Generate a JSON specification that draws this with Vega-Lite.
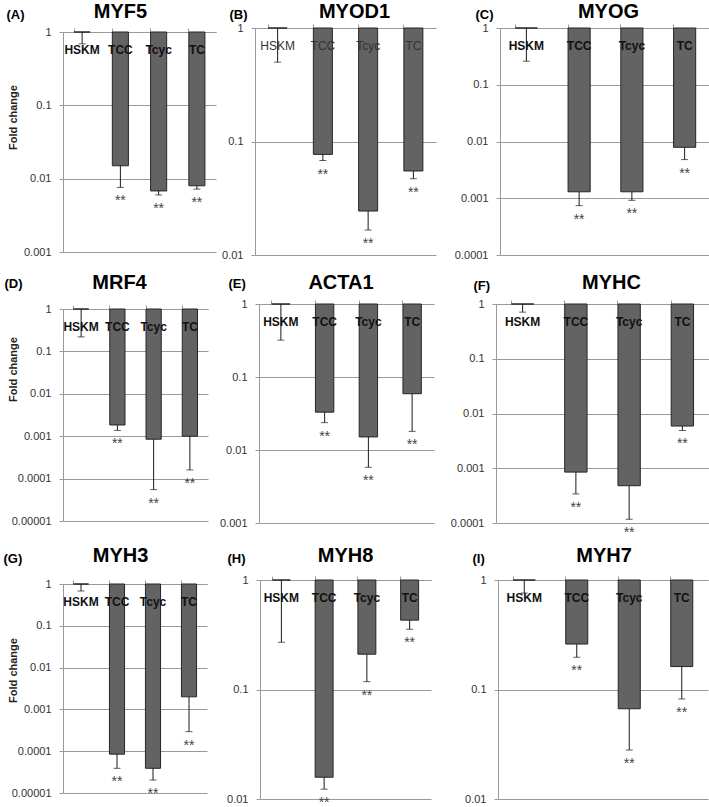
{
"$schema":"https://vega.github.io/schema/vega-lite/v6.json",
"padding":{"left":3,"top":1,"right":0,"bottom":0},
"config":{"view":{"stroke":null},"font":"Liberation Sans","axis":{"labelFont":"Liberation Sans","titleFont":"Liberation Sans"},"text":{"font":"Liberation Sans"}},
"vconcat":[
{"vconcat":[
{"hconcat":[
{"width":153,"height":224,
"data":{"values":[{"cat":"HSKM","val":1,"low":0.69,"sig":""},{"cat":"TCC","val":0.015,"low":0.0076,"sig":"**"},{"cat":"Tcyc","val":0.0068,"low":0.006,"sig":"**"},{"cat":"TC","val":0.008,"low":0.0072,"sig":"**"}]},
"layer":[
{"mark":{"type":"bar","fill":"#636363","stroke":"#262626","strokeWidth":1},"encoding":{"x":{"field":"cat","type":"nominal","sort":["HSKM","TCC","Tcyc","TC"],"scale":{"paddingInner":0.58,"paddingOuter":0.29},"axis":{"orient":"top","offset":-4,"labels":false,"domain":true,"domainColor":"#9a9a9a","ticks":true,"tickColor":"#9a9a9a","tickSize":4,"bandPosition":0,"grid":false,"title":"MYF5","titleFontSize":20,"titleFontWeight":"bold","titleColor":"#000","titleAlign":"center","titleBaseline":"alphabetic","titleAngle":0,"titleX":57,"titleY":-15}},"y":{"field":"val","type":"quantitative","scale":{"type":"log","domain":[0.001,1],"range":[224,4]},"axis":{"values":[1,0.1,0.01,0.001],"format":".5~f","grid":true,"gridColor":"#9a9a9a","domainColor":"#9a9a9a","tickColor":"#9a9a9a","tickSize":4,"labelFontSize":11,"labelColor":"#333","labelPadding":8,"minExtent":40,"title":"Fold change","titleFontSize":11,"titleFontWeight":"bold","titleColor":"#222","titleAngle":-90,"titleAlign":"center","titleBaseline":"middle","titleX":-50,"titleY":89}},"y2":{"datum":1}}},
{"mark":{"type":"rule","color":"#1a1a1a","strokeWidth":1},"encoding":{"x":{"field":"cat","type":"nominal","sort":["HSKM","TCC","Tcyc","TC"],"axis":null},"y":{"field":"val","type":"quantitative"},"y2":{"field":"low"}}},
{"mark":{"type":"tick","color":"#1a1a1a","thickness":1,"size":7},"encoding":{"x":{"field":"cat","type":"nominal","sort":["HSKM","TCC","Tcyc","TC"],"axis":null},"y":{"field":"low","type":"quantitative"}}},
{"mark":{"type":"text","fontSize":14,"dy":18,"baseline":"alphabetic","color":"#444"},"encoding":{"x":{"field":"cat","type":"nominal","sort":["HSKM","TCC","Tcyc","TC"],"axis":null},"y":{"field":"low","type":"quantitative"},"text":{"field":"sig"}}},
{"mark":{"type":"text","fontSize":12,"fontWeight":"bold","dy":17.5,"baseline":"middle","color":"#111"},"encoding":{"x":{"field":"cat","type":"nominal","sort":["HSKM","TCC","Tcyc","TC"],"axis":{"orient":"bottom","labels":false,"ticks":false,"domain":false,"grid":false,"title":"(A)","titleFontSize":13,"titleFontWeight":"bold","titleColor":"#000","titleAlign":"left","titleBaseline":"middle","titleAngle":0,"titleX":-57,"titleY":-238}},"y":{"datum":1},"text":{"field":"cat"}}}
],
"resolve":{"axis":{"x":"independent"}}},
{"width":181,"height":227,
"data":{"values":[{"cat":"HSKM","val":1,"low":0.5,"sig":""},{"cat":"TCC","val":0.077,"low":0.068,"sig":"**"},{"cat":"Tcyc","val":0.0244,"low":0.0166,"sig":"**"},{"cat":"TC","val":0.055,"low":0.047,"sig":"**"}]},
"layer":[
{"mark":{"type":"bar","fill":"#636363","stroke":"#262626","strokeWidth":1},"encoding":{"x":{"field":"cat","type":"nominal","sort":["HSKM","TCC","Tcyc","TC"],"scale":{"paddingInner":0.58,"paddingOuter":0.29},"axis":{"orient":"top","labels":false,"domain":true,"domainColor":"#9a9a9a","ticks":true,"tickColor":"#9a9a9a","tickSize":4,"bandPosition":0,"grid":false,"title":"MYOD1","titleFontSize":20,"titleFontWeight":"bold","titleColor":"#000","titleAlign":"center","titleBaseline":"alphabetic","titleAngle":0,"titleX":99,"titleY":-11}},"y":{"field":"val","type":"quantitative","scale":{"type":"log","domain":[0.01,1]},"axis":{"values":[1,0.1,0.01],"format":".5~f","grid":true,"gridColor":"#9a9a9a","domainColor":"#9a9a9a","tickColor":"#9a9a9a","tickSize":4,"labelFontSize":11,"labelColor":"#333","labelPadding":8,"minExtent":39,"title":null}},"y2":{"datum":1}}},
{"mark":{"type":"rule","color":"#1a1a1a","strokeWidth":1},"encoding":{"x":{"field":"cat","type":"nominal","sort":["HSKM","TCC","Tcyc","TC"],"axis":null},"y":{"field":"val","type":"quantitative"},"y2":{"field":"low"}}},
{"mark":{"type":"tick","color":"#1a1a1a","thickness":1,"size":7},"encoding":{"x":{"field":"cat","type":"nominal","sort":["HSKM","TCC","Tcyc","TC"],"axis":null},"y":{"field":"low","type":"quantitative"}}},
{"mark":{"type":"text","fontSize":14,"dy":18,"baseline":"alphabetic","color":"#444"},"encoding":{"x":{"field":"cat","type":"nominal","sort":["HSKM","TCC","Tcyc","TC"],"axis":null},"y":{"field":"low","type":"quantitative"},"text":{"field":"sig"}}},
{"mark":{"type":"text","fontSize":12,"fontWeight":"normal","dy":17.5,"baseline":"middle","color":"#333"},"encoding":{"x":{"field":"cat","type":"nominal","sort":["HSKM","TCC","Tcyc","TC"],"axis":{"orient":"bottom","labels":false,"ticks":false,"domain":false,"grid":false,"title":"(B)","titleFontSize":13,"titleFontWeight":"bold","titleColor":"#000","titleAlign":"left","titleBaseline":"middle","titleAngle":0,"titleX":-26,"titleY":-241}},"y":{"datum":1},"text":{"field":"cat"}}}
],
"resolve":{"axis":{"x":"independent"}}},
{"width":211,"height":227,
"data":{"values":[{"cat":"HSKM","val":1,"low":0.26,"sig":""},{"cat":"TCC","val":0.0013,"low":0.00074,"sig":"**"},{"cat":"Tcyc","val":0.0013,"low":0.00092,"sig":"**"},{"cat":"TC","val":0.0079,"low":0.0048,"sig":"**"}]},
"layer":[
{"mark":{"type":"bar","fill":"#636363","stroke":"#262626","strokeWidth":1},"encoding":{"x":{"field":"cat","type":"nominal","sort":["HSKM","TCC","Tcyc","TC"],"scale":{"paddingInner":0.58,"paddingOuter":0.29},"axis":{"orient":"top","labels":false,"domain":true,"domainColor":"#9a9a9a","ticks":true,"tickColor":"#9a9a9a","tickSize":4,"bandPosition":0,"grid":false,"title":"MYOG","titleFontSize":20,"titleFontWeight":"bold","titleColor":"#000","titleAlign":"center","titleBaseline":"alphabetic","titleAngle":0,"titleX":108,"titleY":-11}},"y":{"field":"val","type":"quantitative","scale":{"type":"log","domain":[0.0001,1]},"axis":{"values":[1,0.1,0.01,0.001,0.0001],"format":".5~f","grid":true,"gridColor":"#9a9a9a","domainColor":"#9a9a9a","tickColor":"#9a9a9a","tickSize":4,"labelFontSize":11,"labelColor":"#333","labelPadding":8,"minExtent":64,"title":null}},"y2":{"datum":1}}},
{"mark":{"type":"rule","color":"#1a1a1a","strokeWidth":1},"encoding":{"x":{"field":"cat","type":"nominal","sort":["HSKM","TCC","Tcyc","TC"],"axis":null},"y":{"field":"val","type":"quantitative"},"y2":{"field":"low"}}},
{"mark":{"type":"tick","color":"#1a1a1a","thickness":1,"size":7},"encoding":{"x":{"field":"cat","type":"nominal","sort":["HSKM","TCC","Tcyc","TC"],"axis":null},"y":{"field":"low","type":"quantitative"}}},
{"mark":{"type":"text","fontSize":14,"dy":18,"baseline":"alphabetic","color":"#444"},"encoding":{"x":{"field":"cat","type":"nominal","sort":["HSKM","TCC","Tcyc","TC"],"axis":null},"y":{"field":"low","type":"quantitative"},"text":{"field":"sig"}}},
{"mark":{"type":"text","fontSize":12,"fontWeight":"bold","dy":17.5,"baseline":"middle","color":"#111"},"encoding":{"x":{"field":"cat","type":"nominal","sort":["HSKM","TCC","Tcyc","TC"],"axis":{"orient":"bottom","labels":false,"ticks":false,"domain":false,"grid":false,"title":"(C)","titleFontSize":13,"titleFontWeight":"bold","titleColor":"#000","titleAlign":"left","titleBaseline":"middle","titleAngle":0,"titleX":-25,"titleY":-241}},"y":{"datum":1},"text":{"field":"cat"}}}
],
"resolve":{"axis":{"x":"independent"}}}
],"spacing":0},
{"hconcat":[
{"width":145,"height":217,
"data":{"values":[{"cat":"HSKM","val":1,"low":0.22,"sig":""},{"cat":"TCC","val":0.00184,"low":0.00137,"sig":"**"},{"cat":"Tcyc","val":0.00085,"low":0.000055,"sig":"**"},{"cat":"TC","val":0.001,"low":0.00016,"sig":"**"}]},
"layer":[
{"mark":{"type":"bar","fill":"#636363","stroke":"#262626","strokeWidth":1},"encoding":{"x":{"field":"cat","type":"nominal","sort":["HSKM","TCC","Tcyc","TC"],"scale":{"paddingInner":0.58,"paddingOuter":0.29},"axis":{"orient":"top","offset":-5,"labels":false,"domain":true,"domainColor":"#9a9a9a","ticks":true,"tickColor":"#9a9a9a","tickSize":4,"bandPosition":0,"grid":false,"title":"MRF4","titleFontSize":20,"titleFontWeight":"bold","titleColor":"#000","titleAlign":"center","titleBaseline":"alphabetic","titleAngle":0,"titleX":56,"titleY":-21}},"y":{"field":"val","type":"quantitative","scale":{"type":"log","domain":[0.00001,1],"range":[217,5]},"axis":{"values":[1,0.1,0.01,0.001,0.0001,0.00001],"format":".5~f","grid":true,"gridColor":"#9a9a9a","domainColor":"#9a9a9a","tickColor":"#9a9a9a","tickSize":4,"labelFontSize":11,"labelColor":"#333","labelPadding":8,"minExtent":40,"title":"Fold change","titleFontSize":11,"titleFontWeight":"bold","titleColor":"#222","titleAngle":-90,"titleAlign":"center","titleBaseline":"middle","titleX":-50,"titleY":65}},"y2":{"datum":1}}},
{"mark":{"type":"rule","color":"#1a1a1a","strokeWidth":1},"encoding":{"x":{"field":"cat","type":"nominal","sort":["HSKM","TCC","Tcyc","TC"],"axis":null},"y":{"field":"val","type":"quantitative"},"y2":{"field":"low"}}},
{"mark":{"type":"tick","color":"#1a1a1a","thickness":1,"size":7},"encoding":{"x":{"field":"cat","type":"nominal","sort":["HSKM","TCC","Tcyc","TC"],"axis":null},"y":{"field":"low","type":"quantitative"}}},
{"mark":{"type":"text","fontSize":14,"dy":18,"baseline":"alphabetic","color":"#444"},"encoding":{"x":{"field":"cat","type":"nominal","sort":["HSKM","TCC","Tcyc","TC"],"axis":null},"y":{"field":"low","type":"quantitative"},"text":{"field":"sig"}}},
{"mark":{"type":"text","fontSize":12,"fontWeight":"bold","dy":17.5,"baseline":"middle","color":"#111"},"encoding":{"x":{"field":"cat","type":"nominal","sort":["HSKM","TCC","Tcyc","TC"],"axis":{"orient":"bottom","labels":false,"ticks":false,"domain":false,"grid":false,"title":"(D)","titleFontSize":13,"titleFontWeight":"bold","titleColor":"#000","titleAlign":"left","titleBaseline":"middle","titleAngle":0,"titleX":-59,"titleY":-238}},"y":{"datum":1},"text":{"field":"cat"}}}
],
"resolve":{"axis":{"x":"independent"}}},
{"width":175,"height":219,
"data":{"values":[{"cat":"HSKM","val":1,"low":0.32,"sig":""},{"cat":"TCC","val":0.033,"low":0.0237,"sig":"**"},{"cat":"Tcyc","val":0.0151,"low":0.0058,"sig":"**"},{"cat":"TC","val":0.059,"low":0.018,"sig":"**"}]},
"layer":[
{"mark":{"type":"bar","fill":"#636363","stroke":"#262626","strokeWidth":1},"encoding":{"x":{"field":"cat","type":"nominal","sort":["HSKM","TCC","Tcyc","TC"],"scale":{"paddingInner":0.58,"paddingOuter":0.29},"axis":{"orient":"top","labels":false,"domain":true,"domainColor":"#9a9a9a","ticks":true,"tickColor":"#9a9a9a","tickSize":4,"bandPosition":0,"grid":false,"title":"ACTA1","titleFontSize":20,"titleFontWeight":"bold","titleColor":"#000","titleAlign":"center","titleBaseline":"alphabetic","titleAngle":0,"titleX":81.5,"titleY":-16}},"y":{"field":"val","type":"quantitative","scale":{"type":"log","domain":[0.001,1]},"axis":{"values":[1,0.1,0.01,0.001],"format":".5~f","grid":true,"gridColor":"#9a9a9a","domainColor":"#9a9a9a","tickColor":"#9a9a9a","tickSize":4,"labelFontSize":11,"labelColor":"#333","labelPadding":8,"minExtent":51,"title":null}},"y2":{"datum":1}}},
{"mark":{"type":"rule","color":"#1a1a1a","strokeWidth":1},"encoding":{"x":{"field":"cat","type":"nominal","sort":["HSKM","TCC","Tcyc","TC"],"axis":null},"y":{"field":"val","type":"quantitative"},"y2":{"field":"low"}}},
{"mark":{"type":"tick","color":"#1a1a1a","thickness":1,"size":7},"encoding":{"x":{"field":"cat","type":"nominal","sort":["HSKM","TCC","Tcyc","TC"],"axis":null},"y":{"field":"low","type":"quantitative"}}},
{"mark":{"type":"text","fontSize":14,"dy":18,"baseline":"alphabetic","color":"#444"},"encoding":{"x":{"field":"cat","type":"nominal","sort":["HSKM","TCC","Tcyc","TC"],"axis":null},"y":{"field":"low","type":"quantitative"},"text":{"field":"sig"}}},
{"mark":{"type":"text","fontSize":12,"fontWeight":"bold","dy":17.5,"baseline":"middle","color":"#111"},"encoding":{"x":{"field":"cat","type":"nominal","sort":["HSKM","TCC","Tcyc","TC"],"axis":{"orient":"bottom","labels":false,"ticks":false,"domain":false,"grid":false,"title":"(E)","titleFontSize":13,"titleFontWeight":"bold","titleColor":"#000","titleAlign":"left","titleBaseline":"middle","titleAngle":0,"titleX":-31,"titleY":-240}},"y":{"datum":1},"text":{"field":"cat"}}}
],
"resolve":{"axis":{"x":"independent"}}},
{"width":213,"height":219,
"data":{"values":[{"cat":"HSKM","val":1,"low":0.71,"sig":""},{"cat":"TCC","val":0.00085,"low":0.00034,"sig":"**"},{"cat":"Tcyc","val":0.00048,"low":0.000117,"sig":"**"},{"cat":"TC","val":0.0059,"low":0.0049,"sig":"**"}]},
"layer":[
{"mark":{"type":"bar","fill":"#636363","stroke":"#262626","strokeWidth":1},"encoding":{"x":{"field":"cat","type":"nominal","sort":["HSKM","TCC","Tcyc","TC"],"scale":{"paddingInner":0.58,"paddingOuter":0.29},"axis":{"orient":"top","labels":false,"domain":true,"domainColor":"#9a9a9a","ticks":true,"tickColor":"#9a9a9a","tickSize":4,"bandPosition":0,"grid":false,"title":"MYHC","titleFontSize":20,"titleFontWeight":"bold","titleColor":"#000","titleAlign":"center","titleBaseline":"alphabetic","titleAngle":0,"titleX":115,"titleY":-16}},"y":{"field":"val","type":"quantitative","scale":{"type":"log","domain":[0.0001,1]},"axis":{"values":[1,0.1,0.01,0.001,0.0001],"format":".5~f","grid":true,"gridColor":"#9a9a9a","domainColor":"#9a9a9a","tickColor":"#9a9a9a","tickSize":4,"labelFontSize":11,"labelColor":"#333","labelPadding":8,"minExtent":62,"title":null}},"y2":{"datum":1}}},
{"mark":{"type":"rule","color":"#1a1a1a","strokeWidth":1},"encoding":{"x":{"field":"cat","type":"nominal","sort":["HSKM","TCC","Tcyc","TC"],"axis":null},"y":{"field":"val","type":"quantitative"},"y2":{"field":"low"}}},
{"mark":{"type":"tick","color":"#1a1a1a","thickness":1,"size":7},"encoding":{"x":{"field":"cat","type":"nominal","sort":["HSKM","TCC","Tcyc","TC"],"axis":null},"y":{"field":"low","type":"quantitative"}}},
{"mark":{"type":"text","fontSize":14,"dy":18,"baseline":"alphabetic","color":"#444"},"encoding":{"x":{"field":"cat","type":"nominal","sort":["HSKM","TCC","Tcyc","TC"],"axis":null},"y":{"field":"low","type":"quantitative"},"text":{"field":"sig"}}},
{"mark":{"type":"text","fontSize":12,"fontWeight":"bold","dy":17.5,"baseline":"middle","color":"#111"},"encoding":{"x":{"field":"cat","type":"nominal","sort":["HSKM","TCC","Tcyc","TC"],"axis":{"orient":"bottom","labels":false,"ticks":false,"domain":false,"grid":false,"title":"(F)","titleFontSize":13,"titleFontWeight":"bold","titleColor":"#000","titleAlign":"left","titleBaseline":"middle","titleAngle":0,"titleX":-23,"titleY":-238}},"y":{"datum":1},"text":{"field":"cat"}}}
],
"resolve":{"axis":{"x":"independent"}}}
],"spacing":0}
],"spacing":12},
{"hconcat":[
{"width":144,"height":213,
"data":{"values":[{"cat":"HSKM","val":1,"low":0.68,"sig":""},{"cat":"TCC","val":0.000085,"low":0.000039,"sig":"**"},{"cat":"Tcyc","val":0.000039,"low":0.0000204,"sig":"**"},{"cat":"TC","val":0.002,"low":0.000294,"sig":"**"}]},
"layer":[
{"mark":{"type":"bar","fill":"#636363","stroke":"#262626","strokeWidth":1},"encoding":{"x":{"field":"cat","type":"nominal","sort":["HSKM","TCC","Tcyc","TC"],"scale":{"paddingInner":0.58,"paddingOuter":0.29},"axis":{"orient":"top","offset":-4,"labels":false,"domain":true,"domainColor":"#9a9a9a","ticks":true,"tickColor":"#9a9a9a","tickSize":4,"bandPosition":0,"grid":false,"title":"MYH3","titleFontSize":20,"titleFontWeight":"bold","titleColor":"#000","titleAlign":"center","titleBaseline":"alphabetic","titleAngle":0,"titleX":57,"titleY":-23}},"y":{"field":"val","type":"quantitative","scale":{"type":"log","domain":[0.00001,1],"range":[213,4]},"axis":{"values":[1,0.1,0.01,0.001,0.0001,0.00001],"format":".5~f","grid":true,"gridColor":"#9a9a9a","domainColor":"#9a9a9a","tickColor":"#9a9a9a","tickSize":4,"labelFontSize":11,"labelColor":"#333","labelPadding":8,"minExtent":40,"title":"Fold change","titleFontSize":11,"titleFontWeight":"bold","titleColor":"#222","titleAngle":-90,"titleAlign":"center","titleBaseline":"middle","titleX":-50,"titleY":90}},"y2":{"datum":1}}},
{"mark":{"type":"rule","color":"#1a1a1a","strokeWidth":1},"encoding":{"x":{"field":"cat","type":"nominal","sort":["HSKM","TCC","Tcyc","TC"],"axis":null},"y":{"field":"val","type":"quantitative"},"y2":{"field":"low"}}},
{"mark":{"type":"tick","color":"#1a1a1a","thickness":1,"size":7},"encoding":{"x":{"field":"cat","type":"nominal","sort":["HSKM","TCC","Tcyc","TC"],"axis":null},"y":{"field":"low","type":"quantitative"}}},
{"mark":{"type":"text","fontSize":14,"dy":18,"baseline":"alphabetic","color":"#444"},"encoding":{"x":{"field":"cat","type":"nominal","sort":["HSKM","TCC","Tcyc","TC"],"axis":null},"y":{"field":"low","type":"quantitative"},"text":{"field":"sig"}}},
{"mark":{"type":"text","fontSize":12,"fontWeight":"bold","dy":17.5,"baseline":"middle","color":"#111"},"encoding":{"x":{"field":"cat","type":"nominal","sort":["HSKM","TCC","Tcyc","TC"],"axis":{"orient":"bottom","labels":false,"ticks":false,"domain":false,"grid":false,"title":"(G)","titleFontSize":13,"titleFontWeight":"bold","titleColor":"#000","titleAlign":"left","titleBaseline":"middle","titleAngle":0,"titleX":-60,"titleY":-235}},"y":{"datum":1},"text":{"field":"cat"}}}
],
"resolve":{"axis":{"x":"independent"}}},
{"width":171,"height":219,
"data":{"values":[{"cat":"HSKM","val":1,"low":0.27,"sig":""},{"cat":"TCC","val":0.0158,"low":0.0123,"sig":"**"},{"cat":"Tcyc","val":0.21,"low":0.118,"sig":"**"},{"cat":"TC","val":0.43,"low":0.355,"sig":"**"}]},
"layer":[
{"mark":{"type":"bar","fill":"#636363","stroke":"#262626","strokeWidth":1},"encoding":{"x":{"field":"cat","type":"nominal","sort":["HSKM","TCC","Tcyc","TC"],"scale":{"paddingInner":0.58,"paddingOuter":0.29},"axis":{"orient":"top","labels":false,"domain":true,"domainColor":"#9a9a9a","ticks":true,"tickColor":"#9a9a9a","tickSize":4,"bandPosition":0,"grid":false,"title":"MYH8","titleFontSize":20,"titleFontWeight":"bold","titleColor":"#000","titleAlign":"center","titleBaseline":"alphabetic","titleAngle":0,"titleX":85,"titleY":-19}},"y":{"field":"val","type":"quantitative","scale":{"type":"log","domain":[0.01,1]},"axis":{"values":[1,0.1,0.01],"format":".5~f","grid":true,"gridColor":"#9a9a9a","domainColor":"#9a9a9a","tickColor":"#9a9a9a","tickSize":4,"labelFontSize":11,"labelColor":"#333","labelPadding":8,"minExtent":53,"title":null}},"y2":{"datum":1}}},
{"mark":{"type":"rule","color":"#1a1a1a","strokeWidth":1},"encoding":{"x":{"field":"cat","type":"nominal","sort":["HSKM","TCC","Tcyc","TC"],"axis":null},"y":{"field":"val","type":"quantitative"},"y2":{"field":"low"}}},
{"mark":{"type":"tick","color":"#1a1a1a","thickness":1,"size":7},"encoding":{"x":{"field":"cat","type":"nominal","sort":["HSKM","TCC","Tcyc","TC"],"axis":null},"y":{"field":"low","type":"quantitative"}}},
{"mark":{"type":"text","fontSize":14,"dy":18,"baseline":"alphabetic","color":"#444"},"encoding":{"x":{"field":"cat","type":"nominal","sort":["HSKM","TCC","Tcyc","TC"],"axis":null},"y":{"field":"low","type":"quantitative"},"text":{"field":"sig"}}},
{"mark":{"type":"text","fontSize":12,"fontWeight":"bold","dy":17.5,"baseline":"middle","color":"#111"},"encoding":{"x":{"field":"cat","type":"nominal","sort":["HSKM","TCC","Tcyc","TC"],"axis":{"orient":"bottom","labels":false,"ticks":false,"domain":false,"grid":false,"title":"(H)","titleFontSize":13,"titleFontWeight":"bold","titleColor":"#000","titleAlign":"left","titleBaseline":"middle","titleAngle":0,"titleX":-33,"titleY":-241}},"y":{"datum":1},"text":{"field":"cat"}}}
],
"resolve":{"axis":{"x":"independent"}}},
{"width":210,"height":219,
"data":{"values":[{"cat":"HSKM","val":1,"low":0.76,"sig":""},{"cat":"TCC","val":0.26,"low":0.197,"sig":"**"},{"cat":"Tcyc","val":0.0667,"low":0.028,"sig":"**"},{"cat":"TC","val":0.162,"low":0.082,"sig":"**"}]},
"layer":[
{"mark":{"type":"bar","fill":"#636363","stroke":"#262626","strokeWidth":1},"encoding":{"x":{"field":"cat","type":"nominal","sort":["HSKM","TCC","Tcyc","TC"],"scale":{"paddingInner":0.58,"paddingOuter":0.29},"axis":{"orient":"top","labels":false,"domain":true,"domainColor":"#9a9a9a","ticks":true,"tickColor":"#9a9a9a","tickSize":4,"bandPosition":0,"grid":false,"title":"MYH7","titleFontSize":20,"titleFontWeight":"bold","titleColor":"#000","titleAlign":"center","titleBaseline":"alphabetic","titleAngle":0,"titleX":105.5,"titleY":-19}},"y":{"field":"val","type":"quantitative","scale":{"type":"log","domain":[0.01,1]},"axis":{"values":[1,0.1,0.01],"format":".5~f","grid":true,"gridColor":"#9a9a9a","domainColor":"#9a9a9a","tickColor":"#9a9a9a","tickSize":4,"labelFontSize":11,"labelColor":"#333","labelPadding":8,"minExtent":67,"title":null}},"y2":{"datum":1}}},
{"mark":{"type":"rule","color":"#1a1a1a","strokeWidth":1},"encoding":{"x":{"field":"cat","type":"nominal","sort":["HSKM","TCC","Tcyc","TC"],"axis":null},"y":{"field":"val","type":"quantitative"},"y2":{"field":"low"}}},
{"mark":{"type":"tick","color":"#1a1a1a","thickness":1,"size":7},"encoding":{"x":{"field":"cat","type":"nominal","sort":["HSKM","TCC","Tcyc","TC"],"axis":null},"y":{"field":"low","type":"quantitative"}}},
{"mark":{"type":"text","fontSize":14,"dy":18,"baseline":"alphabetic","color":"#444"},"encoding":{"x":{"field":"cat","type":"nominal","sort":["HSKM","TCC","Tcyc","TC"],"axis":null},"y":{"field":"low","type":"quantitative"},"text":{"field":"sig"}}},
{"mark":{"type":"text","fontSize":12,"fontWeight":"bold","dy":17.5,"baseline":"middle","color":"#111"},"encoding":{"x":{"field":"cat","type":"nominal","sort":["HSKM","TCC","Tcyc","TC"],"axis":{"orient":"bottom","labels":false,"ticks":false,"domain":false,"grid":false,"title":"(I)","titleFontSize":13,"titleFontWeight":"bold","titleColor":"#000","titleAlign":"left","titleBaseline":"middle","titleAngle":0,"titleX":-26,"titleY":-241}},"y":{"datum":1},"text":{"field":"cat"}}}
],
"resolve":{"axis":{"x":"independent"}}}
],"spacing":0}
],
"spacing":4
}
